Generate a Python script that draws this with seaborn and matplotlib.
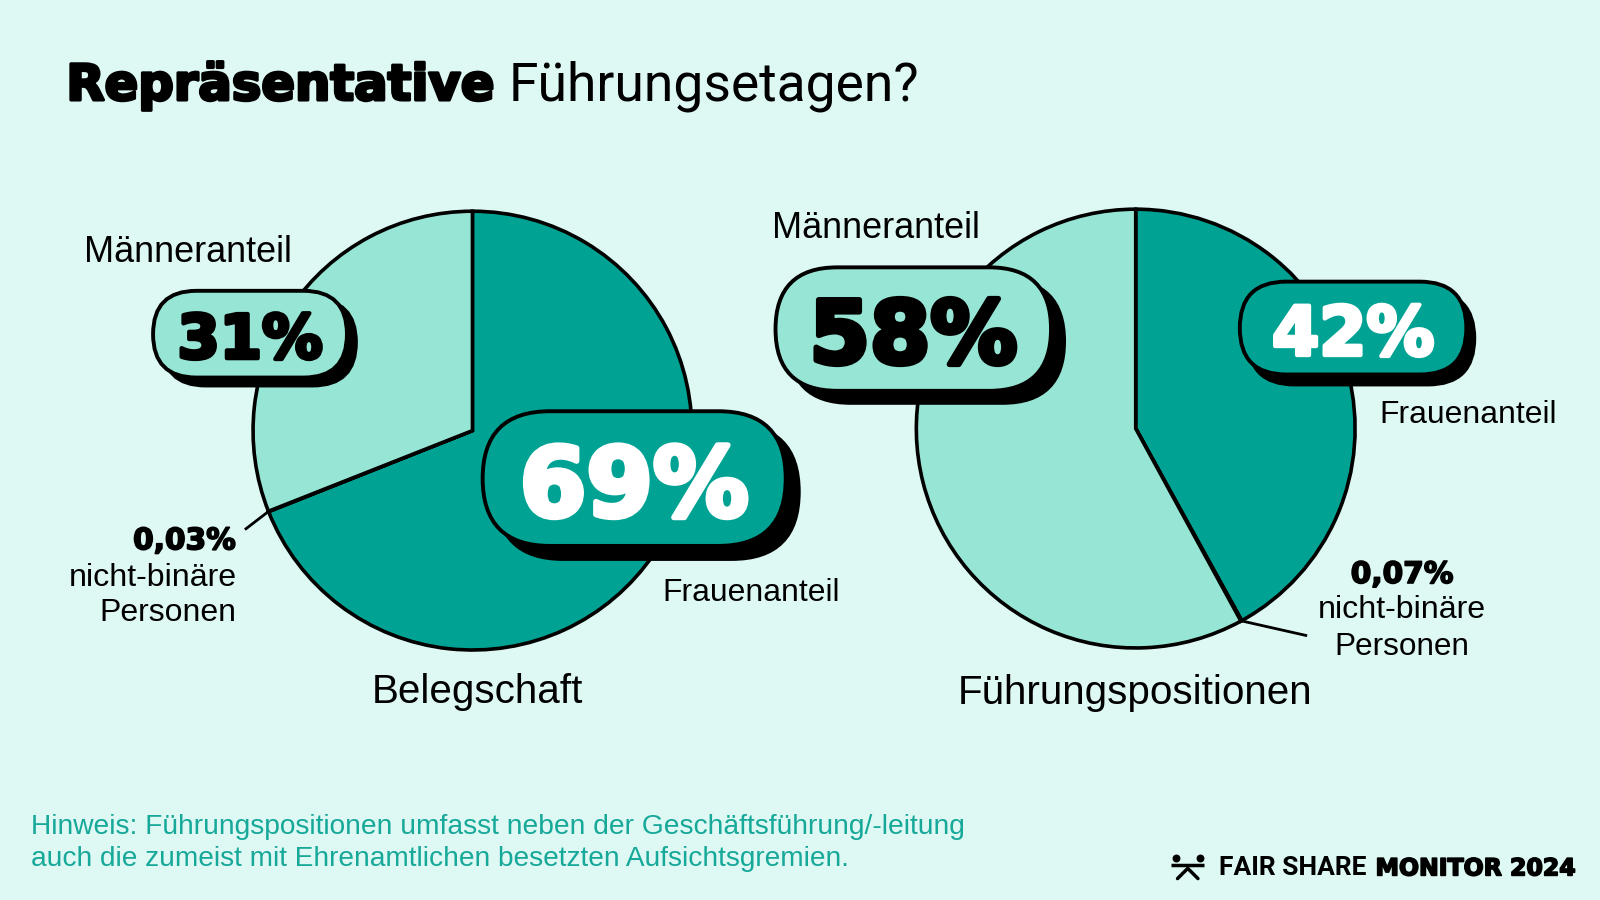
import matplotlib
matplotlib.use("Agg")
import matplotlib.pyplot as plt
import matplotlib.patheffects as pe
import seaborn as sns
import numpy as np
from matplotlib.patches import FancyBboxPatch

# ---------------- data ----------------
groups = ["Belegschaft", "Führungspositionen"]
categories = ["Frauenanteil", "nicht-binäre Personen", "Männeranteil"]
belegschaft = [69, 0.03, 31]
fuehrung = [42, 0.07, 58]
pct_labels_beleg = ["69%", "0,03%", "31%"]
pct_labels_fuehr = ["42%", "0,07%", "58%"]

BG = "#DEF8F3"
DARK = "#00A393"
LIGHT = "#97E6D5"
NOTE = "#16A899"
slice_colors = [DARK, "#000000", LIGHT]

sns.set_theme(style="white")
plt.rcParams["font.family"] = ["Liberation Sans", "DejaVu Sans"]
HEAVY = ["DejaVu Sans"]

# layout coordinate space (reference measured at 1568x882)
W, H = 1568, 882
S = 1600 / W
fig = plt.figure(figsize=(16, 9), dpi=100, facecolor=BG)

def pie_axes(cx, cy, r, pad=1.1):
    hw = r * pad
    ax = fig.add_axes([(cx - hw) / W, (H - cy - hw) / H, 2 * hw / W, 2 * hw / H])
    ax.set_facecolor("none")
    return ax

pies = [(belegschaft, 463, 422, 215), (fuehrung, 1113, 420, 215)]
nb_points = []
for vals, cx, cy, r in pies:
    ax = pie_axes(cx, cy, r)
    ax.pie(vals, colors=slice_colors, startangle=90, counterclock=False, radius=1,
           wedgeprops=dict(edgecolor="black", linewidth=2.6, joinstyle="miter"))
    ax.set_xlim(-1.1, 1.1)
    ax.set_ylim(-1.1, 1.1)
    ax.set_aspect("equal")
    ax.axis("off")
    total = sum(vals)
    ang = np.deg2rad(90 - 360 * (vals[0] + vals[1] / 2) / total)
    nb_points.append((cx + r * np.cos(ang), cy - r * np.sin(ang)))

# overlay in layout coordinates
ov = fig.add_axes([0, 0, 1, 1], zorder=5)
ov.set_xlim(0, W)
ov.set_ylim(H, 0)
ov.axis("off")
ov.set_facecolor("none")

renderer = fig.canvas.get_renderer()

def fit(x, y, s, width, ha="left", va="center", stroke=0, **kw):
    t = ov.text(x, y, s, fontsize=20, ha=ha, va=va, **kw)
    w = t.get_window_extent(renderer).width
    t.set_fontsize(20 * (width * S - stroke) / w)
    if stroke:
        t.set_path_effects([pe.withStroke(linewidth=stroke,
                                          foreground=kw.get("color", "black"))])
    return t

# title
fit(65, 98, "Repräsentative", 422, va="baseline", family=HEAVY,
    fontweight="bold", color="black", stroke=2.2)
fit(498, 98, "Führungsetagen?", 402, va="baseline", family=["Roboto", "DejaVu Sans"],
    color="black")

def pill(x0, y0, x1, y1, off, face, text, tcolor, tw, stroke):
    h = y1 - y0
    rs = h / 2
    sh = FancyBboxPatch((x0 + rs + off[0], y0 + rs + off[1]), (x1 - x0) - 2 * rs, 0,
                        boxstyle=f"round,pad={rs},rounding_size={rs}",
                        facecolor="black", edgecolor="black", linewidth=2.5, zorder=2)
    ov.add_patch(sh)
    p = FancyBboxPatch((x0 + rs, y0 + rs), (x1 - x0) - 2 * rs, 0,
                       boxstyle=f"round,pad={rs},rounding_size={rs}",
                       facecolor=face, edgecolor="black", linewidth=2.8, zorder=3)
    ov.add_patch(p)
    fit((x0 + x1) / 2, (y0 + y1) / 2 + 1, text, tw, ha="center", va="center_baseline",
        family=HEAVY, fontweight="bold", color=tcolor, zorder=4, stroke=stroke)

pill(150, 285, 340, 370, (9, 8), LIGHT, pct_labels_beleg[2], "black", 145, 3)
pill(473, 403, 770, 535, (13, 13), DARK, pct_labels_beleg[0], "white", 228, 4)
pill(760, 262, 1030, 383, (13, 12), LIGHT, pct_labels_fuehr[2], "black", 208, 4)
pill(1215, 276, 1437, 367, (8, 10), DARK, pct_labels_fuehr[0], "white", 162, 3)

# category labels
lab_w = 203
fit(82, 247, categories[2], lab_w, color="black")
fit(757, 224, categories[2], lab_w, color="black")
fit(649, 581, categories[0], 173, color="black")
fit(1352, 407, categories[0], 173, color="black")

# non-binary labels
nb1, nb2 = categories[1].split(" ")
fit(231, 530, pct_labels_beleg[1], 102, ha="right", fontweight="bold",
    family=HEAVY, color="black", stroke=1.2)
fit(232, 566, nb1, 164, ha="right", color="black")
fit(232, 601, nb2, 134, ha="right", color="black")
fit(1374, 563, pct_labels_fuehr[1], 102, ha="center", fontweight="bold",
    family=HEAVY, color="black", stroke=1.2)
fit(1374, 598, nb1, 164, ha="center", color="black")
fit(1374, 634, nb2, 132, ha="center", color="black")

# leader lines
(px1, py1), (px2, py2) = nb_points
ov.plot([240, px1], [519, py1], color="black", lw=2, solid_capstyle="butt")
ov.plot([px2, 1281], [py2, 623], color="black", lw=2, solid_capstyle="butt")

# group titles
fit(468, 678, groups[0], 206, ha="center", color="black")
fit(1112, 679, groups[1], 347, ha="center", color="black")

# note
fit(30, 810, "Hinweis: Führungspositionen umfasst neben der Geschäftsführung/-leitung",
    910, color=NOTE)
fit(30, 842, "auch die zumeist mit Ehrenamtlichen besetzten Aufsichtsgremien.",
    798, color=NOTE)

# logo
ov.plot([1148, 1180], [848, 848], color="black", lw=2.5, solid_capstyle="butt")
ov.scatter([1152, 1176], [841, 841], s=22, color="black", zorder=6)
ov.plot([1154, 1164, 1174], [861, 851, 861], color="black", lw=2.5)
fit(1195, 851, "FAIR SHARE", 145, family=["Roboto", "DejaVu Sans"], fontweight="bold",
    color="black")
fit(1348, 851, "MONITOR 2024", 197, family=HEAVY, fontweight="bold", color="black",
    stroke=1.2)

fig.savefig("out.png", dpi=100, facecolor=BG)
